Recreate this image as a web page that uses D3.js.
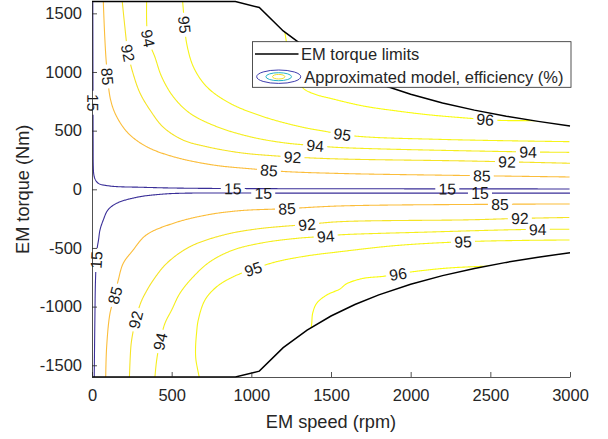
<!DOCTYPE HTML>
<html lang="en">
<head>
<meta charset="utf-8">
<title>EM efficiency map</title>
<style type="text/css">
	body { margin: 0; background-color: #ffffff; }
	text { font-family: "Liberation Sans", Arial, Helvetica, sans-serif; fill: #262626; }
	.axis path, .axis line { stroke: #262626; stroke-width: 0.8; }
	.axis text { font-size: 16.5px; }
</style>
<script src="https://cdn.jsdelivr.net/npm/d3@7/dist/d3.min.js"></script>
</head>
<body>
<div id="chart"></div>
<script>

// axis ticks
var speedTicks = [0, 500, 1000, 1500, 2000, 2500, 3000];
var torqueTicks = [-1500, -1000, -500, 0, 500, 1000, 1500];

// EM torque limits (rpm / Nm)
var limitSpeed = [0, 900, 1050, 1200, 1350, 1500, 1650, 1800, 2000, 2200, 2400, 2600, 2800, 3000];
var limitTorqueMax = [1600, 1600, 1550, 1350, 1200, 1080, 982, 900, 810, 736, 675, 623, 579, 540];
var limitTorqueMin = [-1600, -1600, -1550, -1350, -1200, -1080, -982, -900, -810, -736, -675, -623, -579, -540];

// efficiency contour lines, [rpm, Nm]
var eff15Up = [[5,1600],[6,900],[7,400],[8,200],[11,130],[19,88],[40,51],[113,28],[322,17],[552,10],[1000,6],[2000,4],[3000,3]];
var eff85Up = [[71,1600],[80,1300],[92,1045],[117,761],[155,619],[228,477],[343,363],[510,278],[761,207],[1012,173],[1201,152],[1556,135],[2372,117],[3000,105]];
var eff92Up = [[190,1600],[205,1400],[226,1162],[257,991],[301,821],[364,676],[446,531],[571,420],[720,363],[929,312],[1159,284],[1494,261],[2372,241],[3000,222]];
var eff94Up = [[343,1600],[351,1289],[395,1127],[437,960],[510,789],[615,648],[783,534],[992,448],[1201,397],[1400,372],[1556,356],[2667,320],[3000,315]];
var eff95Up = [[569,1600],[584,1358],[594,1244],[636,1045],[720,874],[866,733],[1075,619],[1305,534],[1450,497],[1651,454],[2200,425],[3000,406]];
var eff96Up = [[1200,1420],[1211,1333],[1230,1187],[1268,1017],[1324,864],[1400,810],[1494,776],[1703,710],[1912,668],[2121,634],[2372,605],[2548,588],[2749,585],[2950,585]];

var eff15Down = [[14,-1600],[18,-1114],[22,-773],[31,-517],[41,-432],[50,-347],[71,-261],[100,-176],[155,-119],[281,-68],[427,-43],[552,-34],[1305,-33],[3000,-33]];
var eff85Down = [[86,-1600],[92,-1342],[113,-1057],[144,-901],[165,-773],[196,-631],[254,-525],[340,-390],[510,-290],[720,-219],[929,-182],[1222,-165],[1556,-142],[2498,-128],[3000,-125]];
var eff92Down = [[235,-1600],[245,-1327],[260,-1199],[282,-1071],[308,-960],[339,-875],[385,-773],[469,-631],[615,-489],[824,-390],[1034,-338],[1347,-300],[1556,-276],[2372,-260],[2686,-248],[3000,-240]];
var eff94Down = [[395,-1600],[406,-1455],[427,-1299],[458,-1142],[500,-1029],[552,-886],[636,-745],[741,-617],[887,-517],[1075,-455],[1285,-418],[1469,-400],[1546,-389],[2121,-364],[2705,-343],[3000,-341]];
var eff95Down = [[673,-1600],[652,-1450],[650,-1350],[656,-1230],[667,-1114],[709,-944],[783,-830],[887,-745],[1012,-680],[1159,-617],[1347,-568],[1556,-532],[1912,-479],[2330,-447],[2686,-436],[3000,-432]];
var eff96Down = [[1372,-1230],[1379,-1142],[1385,-1057],[1410,-972],[1473,-901],[1556,-850],[1598,-805],[1703,-759],[1828,-742],[1922,-722],[2006,-704],[2226,-672],[2498,-654],[2686,-645]];

// where the inline labels sit, [rpm, Nm]
var lab15Up = [[6,738],[885,8],[2228,4]];
var lab85Up = [[92,960],[1111,160],[2448,112]];
var lab92Up = [[228,1159],[1261,277],[2605,216]];
var lab94Up = [[351,1290],[1400,378],[2736,310]];
var lab95Up = [[578,1400],[1569,463]];
var lab96Up = [[2466,596]];
var lab15Down = [[28,-603],[1073,-33],[2435,-33]];
var lab85Down = [[144,-901],[1224,-168],[2561,-130]];
var lab92Down = [[275,-1114],[1349,-300],[2686,-248]];
var lab94Down = [[427,-1299],[1469,-400],[2799,-342]];
var lab95Down = [[1012,-680],[2330,-447]];
var lab96Down = [[1922,-722]];

// parula colours for the levels 15..96
var levelColor = {15: "#3a2f98", 85: "#fbbd3a", 92: "#f5e425", 94: "#f5ee1e", 95: "#f6f418", 96: "#f9fb0e"};

var contourList = [
	{level: 15, pts: eff15Up, labels: lab15Up},
	{level: 85, pts: eff85Up, labels: lab85Up},
	{level: 92, pts: eff92Up, labels: lab92Up},
	{level: 94, pts: eff94Up, labels: lab94Up},
	{level: 95, pts: eff95Up, labels: lab95Up},
	{level: 96, pts: eff96Up, labels: lab96Up},
	{level: 15, pts: eff15Down, labels: lab15Down},
	{level: 85, pts: eff85Down, labels: lab85Down},
	{level: 92, pts: eff92Down, labels: lab92Down},
	{level: 94, pts: eff94Down, labels: lab94Down},
	{level: 95, pts: eff95Down, labels: lab95Down},
	{level: 96, pts: eff96Down, labels: lab96Down}
];

var width = 608, height = 439;
var plotLeft = 92, plotRight = 570, plotTop = 1.6, plotBottom = 377;

var svg = d3.select("#chart").append("svg")
	.attr("width", width)
	.attr("height", height);

var x = d3.scaleLinear().domain([0, 3000]).range([plotLeft, plotRight]);
var y = d3.scaleLinear().domain([-1600, 1600]).range([plotBottom, plotTop]);

// clip region = inside the torque limits
var limitUp = limitSpeed.map(function(s, i) { return [s, limitTorqueMax[i]]; });
var limitDown = limitSpeed.map(function(s, i) { return [s, limitTorqueMin[i]]; });
var clipPoly = limitUp.concat(limitDown.slice().reverse());

var limitLine = d3.line().x(function(d) { return x(d[0]); }).y(function(d) { return y(d[1]); });

svg.append("clipPath").attr("id", "limits")
	.append("path")
	.attr("d", limitLine(clipPoly) + "Z");

var gLines = svg.append("g").attr("clip-path", "url(#limits)");
var gLabels = svg.append("g");

var smooth = d3.line()
	.x(function(d) { return x(d[0]); })
	.y(function(d) { return y(d[1]); })
	.curve(d3.curveCatmullRom.alpha(0.5));

function drawContour(c)
{
	var tmp = svg.append("path").attr("d", smooth(c.pts)).attr("fill", "none");
	var node = tmp.node();
	var total = node.getTotalLength();
	var samples = [];
	for (var s = 0; s <= total; s += 0.75) {
		var p = node.getPointAtLength(s);
		samples.push({s: s, x: p.x, y: p.y});
	}

	var gaps = [];
	c.labels.forEach(function(lb) {
		var px = x(lb[0]), py = y(lb[1]);
		var best = d3.least(samples, function(d) { return (d.x - px) * (d.x - px) + (d.y - py) * (d.y - py); });
		var a = node.getPointAtLength(Math.max(0, best.s - 5));
		var b = node.getPointAtLength(Math.min(total, best.s + 5));
		var ang = Math.atan2(b.y - a.y, b.x - a.x) * 180 / Math.PI;
		if (ang > 90) ang -= 180;
		if (ang < -90) ang += 180;
		var t = gLabels.append("text")
			.attr("transform", "translate(" + best.x + "," + best.y + ") rotate(" + ang + ")")
			.attr("text-anchor", "middle")
			.attr("dy", "0.36em")
			.style("font-size", "15.8px")
			.style("fill", "#1a1a1a")
			.text(c.level);
		var w = t.node().getComputedTextLength();
		gaps.push([best.s - w / 2 - 2.5, best.s + w / 2 + 2.5]);
	});
	tmp.remove();

	var runs = [], cur = [];
	samples.forEach(function(d) {
		var inGap = gaps.some(function(g) { return d.s > g[0] && d.s < g[1]; });
		if (inGap) {
			if (cur.length > 1) runs.push(cur);
			cur = [];
		} else {
			cur.push([d.x, d.y]);
		}
	});
	if (cur.length > 1) runs.push(cur);

	runs.forEach(function(r) {
		gLines.append("path")
			.attr("d", d3.line()(r))
			.attr("fill", "none")
			.attr("stroke", levelColor[c.level])
			.attr("stroke-width", 1.1);
	});
}

contourList.forEach(drawContour);

// torque limit lines
[limitUp, limitDown].forEach(function(l) {
	svg.append("path")
		.attr("d", limitLine(l))
		.attr("fill", "none")
		.attr("stroke", "#000")
		.attr("stroke-width", 1.5);
});

// axes (box off, ticks inside), plain integer labels like the original
var plain = function(d) { return String(d); };

svg.append("g").attr("class", "axis")
	.attr("transform", "translate(0," + plotBottom + ")")
	.call(d3.axisBottom(x).tickValues(speedTicks).tickFormat(plain).tickSizeInner(-5).tickSizeOuter(0).tickPadding(12))
	.selectAll("text").style("fill", "#262626");

svg.append("g").attr("class", "axis")
	.attr("transform", "translate(" + plotLeft + ",0)")
	.call(d3.axisLeft(y).tickValues(torqueTicks).tickFormat(plain).tickSizeInner(-5).tickSizeOuter(0).tickPadding(10))
	.selectAll("text").style("fill", "#262626");

svg.selectAll(".axis .domain").attr("stroke", "#262626");

svg.append("text")
	.attr("x", (plotLeft + plotRight) / 2)
	.attr("y", 421)
	.attr("dy", "0.36em")
	.attr("text-anchor", "middle")
	.style("font-size", "18.2px")
	.text("EM speed (rpm)");

svg.append("text")
	.attr("transform", "translate(22," + y(0) + ") rotate(-90)")
	.attr("dy", "0.36em")
	.attr("text-anchor", "middle")
	.style("font-size", "18.2px")
	.text("EM torque (Nm)");

// legend
var leg = svg.append("g");
leg.append("rect")
	.attr("x", 252.5).attr("y", 41.7)
	.attr("width", 318.5).attr("height", 45.6)
	.attr("fill", "#fff")
	.attr("stroke", "#262626")
	.attr("stroke-width", 0.8);
leg.append("line")
	.attr("x1", 255).attr("x2", 298.5)
	.attr("y1", 54).attr("y2", 54)
	.attr("stroke", "#000").attr("stroke-width", 1.5);
leg.append("text")
	.attr("x", 301).attr("y", 54).attr("dy", "0.36em")
	.style("font-size", "16.5px")
	.text("EM torque limits");
var ell = [[22, 6.7, "#3e3cae"], [12.8, 4, "#26b3c8"], [6.2, 2.3, "#f2e12a"]];
ell.forEach(function(e) {
	leg.append("ellipse")
		.attr("cx", 278.7).attr("cy", 76.7)
		.attr("rx", e[0]).attr("ry", e[1])
		.attr("fill", "none")
		.attr("stroke", e[2])
		.attr("stroke-width", 1);
});
leg.append("text")
	.attr("x", 304.3).attr("y", 76.7).attr("dy", "0.36em")
	.style("font-size", "16.5px")
	.text("Approximated model, efficiency (%)");

</script>
</body>
</html>
